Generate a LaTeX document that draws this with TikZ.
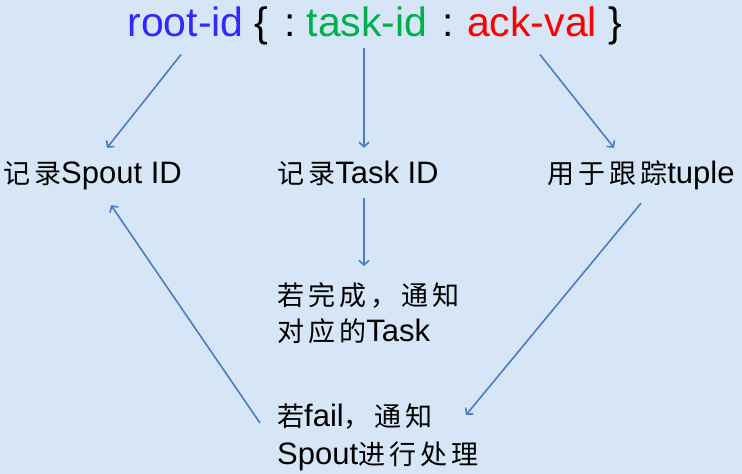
\documentclass[tikz,border=0pt]{standalone}
\usepackage{fontspec}
\setmainfont{Liberation Sans}
\newfontfamily\cjk[LetterSpace=15]{Noto Sans CJK SC}
\usetikzlibrary{arrows.meta}

\definecolor{bgblue}{RGB}{214,230,246}
\definecolor{linkblue}{RGB}{74,126,190}
\definecolor{rootblue}{RGB}{51,40,250}
\definecolor{taskgreen}{RGB}{0,176,80}
\definecolor{ackred}{RGB}{255,0,0}

\newcommand{\zh}[1]{{\fontsize{27}{36}\cjk #1}}

\begin{document}
\begin{tikzpicture}[x=1pt, y=-1pt,
    title/.style={inner sep=0pt, anchor=base, font=\fontsize{41}{48}\selectfont},
    label/.style={inner sep=0pt, anchor=base west, text height=24pt, text depth=6pt, font=\fontsize{31}{36}\selectfont},
    note/.style={inner sep=0pt, anchor=north west, align=left, font=\fontsize{31}{36}\selectfont},
    link/.style={draw=linkblue, line width=1.6pt, -{Straight Barb[length=4.5pt,width=10pt]}}]

    % background
    \fill[bgblue] (0,0) rectangle (742,474);
    \useasboundingbox (0,0) rectangle (742,474);

    % title
    \node[title, text=rootblue] (root) at (185.5,36) {root-id};
    \node[title, anchor=base west] (lbrace) at (254,36) {\{};
    \node[title] (colona) at (290,36) {:};
    \node[title, text=taskgreen] (task) at (367,36) {task-id};
    \node[title] (colonb) at (448,36) {:};
    \node[title, text=ackred] (ack) at (532,36) {ack-val};
    \node[title, anchor=base west] (rbrace) at (608,36) {\}};

    % middle row
    \node[label] (spout) at (3,183) {\zh{记录}Spout ID};
    \node[label] (taskid) at (277,183) {\zh{记录}Task ID};
    \node[label] (tuple) at (547,183) {\zh{用于跟踪}tuple};

    % bottom
    \node[note] (done) at (277,282) {\zh{若完成，通知}\\\zh{对应的}Task};
    \node[note, font=\fontsize{31}{38}\selectfont] (fail) at (277,404) {\zh{若}fail\zh{，通知}\\Spout\zh{进行处理}};

    % title to row
    \draw[link] ([xshift=-4.5pt,yshift=-18pt]root.south) -- ([xshift=104pt,yshift=11pt]spout.north west);
    \draw[link] ([xshift=-3pt,yshift=-11pt]task.south) -- ([xshift=87pt,yshift=11pt]taskid.north west);
    \draw[link] ([xshift=8pt,yshift=-18pt]ack.south) -- ([xshift=67pt,yshift=11pt]tuple.north west);

    % row to bottom
    \draw[link] ([xshift=87pt,yshift=-9pt]taskid.south west) -- ([xshift=87pt,yshift=16pt]done.north west);
    \draw[link] ([xshift=94pt,yshift=-14pt]tuple.south west) -- ([xshift=189pt,yshift=-11pt]fail.north west);
    \draw[link] ([xshift=-17pt,yshift=-19pt]fail.north west) -- ([xshift=108pt,yshift=-16pt]spout.south west);
\end{tikzpicture}
\end{document}
